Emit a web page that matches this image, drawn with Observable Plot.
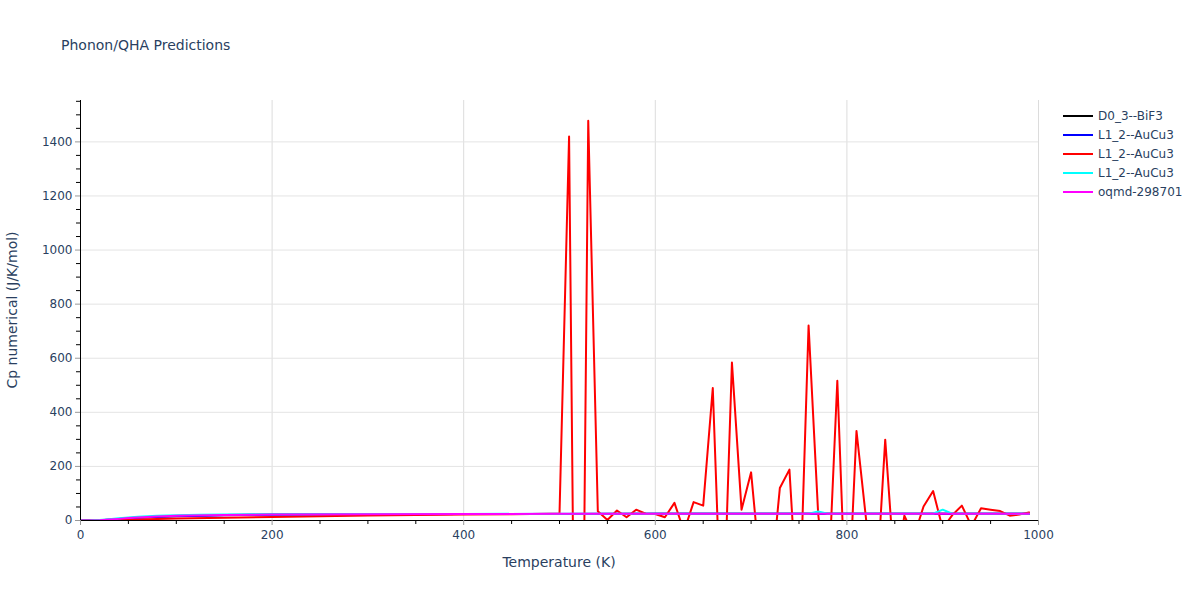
<!DOCTYPE html>
<html>
<head>
<meta charset="utf-8">
<script src="https://cdn.jsdelivr.net/npm/d3@7"></script>
<script src="https://cdn.jsdelivr.net/npm/@observablehq/plot@0.6"></script>
<style>
  html, body { margin: 0; padding: 0; background: #fff; }
  #wrap { position: relative; width: 1200px; height: 600px; font-family: "DejaVu Sans", sans-serif; color: #2a3f5f; }
  #wrap svg { position: absolute; left: 0; top: 0; }
  .title { position: absolute; left: 61px; top: 37px; font-size: 14px; white-space: nowrap; }
  .xlabel { position: absolute; left: 559px; top: 554px; transform: translateX(-50%); font-size: 14px; white-space: nowrap; }
  .ylabel { position: absolute; left: 12px; top: 310px; transform: translate(-50%, -50%) rotate(-90deg); font-size: 14px; white-space: nowrap; }
  .legend { position: absolute; left: 1063px; top: 106px; font-size: 12px; }
  .legend .item { height: 19px; display: flex; align-items: center; white-space: nowrap; }
  .legend .swatch { width: 30px; height: 2px; margin-right: 5px; }
</style>
</head>
<body>
<div id="wrap">
  <div class="title">Phonon/QHA Predictions</div>
  <div class="xlabel">Temperature (K)</div>
  <div class="ylabel">Cp numerical (J/K/mol)</div>
  <div class="legend" id="legend"></div>
</div>
<script>
// ---- data ----
const seriesNames = ["D0_3--BiF3", "L1_2--AuCu3", "L1_2--AuCu3", "L1_2--AuCu3", "oqmd-298701"];
const seriesColors = ["black", "blue", "red", "cyan", "magenta"];

const blackT = [0, 10, 20, 30, 40, 50, 60, 80, 100, 150, 200, 300, 400, 500, 600, 700, 800, 900, 990];
const blackCp = [0, 0.2, 1.1, 3.0, 5.5, 8.2, 10.8, 14.3, 16.8, 20.0, 21.8, 23.4, 24.1, 24.4, 24.6, 24.7, 24.8, 24.8, 24.9];

const blueT = [0, 10, 20, 30, 40, 50, 60, 80, 100, 150, 200, 300, 400, 500, 600, 700, 800, 900, 990];
const blueCp = [0, 0.15, 1.0, 2.8, 5.0, 7.6, 10.0, 13.5, 16.0, 19.5, 21.5, 23.2, 24.0, 24.4, 24.6, 24.7, 24.8, 24.8, 24.9];

const redT = [0, 10, 20, 30, 40, 50, 60, 80, 100, 150, 200, 250, 300, 350, 400, 450, 490,
  500, 510, 520, 530, 540, 550, 560, 570, 580, 590, 600, 610, 620, 630, 640, 650, 660, 670, 680, 690,
  700, 710, 720, 730, 740, 750, 760, 770, 780, 790, 800, 810, 820, 830, 840, 850, 860, 870, 880, 890,
  900, 910, 920, 930, 940, 950, 960, 970, 980, 990];
const redCp = [0, 0.1, 0.5, 1.2, 2.0, 3.0, 4.0, 5.5, 7.0, 10.0, 13.0, 16.0, 18.5, 20.5, 22.0, 23.5, 24.5,
  25, 1420, -2200, 1478, 34, 2, 37, 12, 40, 25, 24, 12, 65, -40, 68, 55, 490, -500, 584, 40,
  178, -200, -250, 120, 188, -400, 721, 25, -290, 517, -440, 331, 5, -300, 299, -200, 18, -60, 52, 109,
  -30, 20, 55, -20, 45, 40, 35, 18, 22, 30];

const cyanT = [0, 10, 20, 30, 40, 50, 60, 70, 80, 100, 125, 150, 200, 300, 400, 500, 600, 700, 760, 770, 780, 800, 890, 900, 910, 990];
const cyanCp = [0, 0.3, 2.0, 5.0, 8.5, 11.5, 14.0, 16.0, 17.5, 19.5, 21.0, 22.0, 23.2, 24.0, 24.4, 24.6, 24.7, 24.8, 24.8, 33, 24.8, 24.8, 24.9, 40, 24.9, 25.0];

const magentaT = [0, 10, 20, 30, 40, 50, 60, 80, 100, 150, 200, 300, 400, 500, 600, 700, 800, 900, 990];
const magentaCp = [0, 0.2, 1.2, 3.5, 6.0, 9.0, 11.5, 15.0, 17.5, 20.5, 22.0, 23.5, 24.2, 24.5, 24.7, 24.8, 24.8, 24.9, 25.0];

const xMajor = [0, 200, 400, 600, 800, 1000];
const yMajor = [0, 200, 400, 600, 800, 1000, 1200, 1400];

// ---- build tables ----
const allT = [blackT, blueT, redT, cyanT, magentaT];
const allCp = [blackCp, blueCp, redCp, cyanCp, magentaCp];
const tables = allT.map((ts, i) => ts.map((t, j) => ({t, cp: allCp[i][j]})));

const xMinor = d3.range(0, 1001, 50).filter(v => !xMajor.includes(v));
const yMinor = d3.range(0, 1551, 50).filter(v => !yMajor.includes(v));

const font = "'DejaVu Sans', sans-serif";
const textColor = "#2a3f5f";

const chart = Plot.plot({
  width: 1200,
  height: 600,
  marginTop: 100,
  marginRight: 162,
  marginBottom: 80,
  marginLeft: 80,
  style: {fontFamily: font, fontSize: "12px", color: textColor, background: "transparent"},
  x: {domain: [0, 1000]},
  y: {domain: [0, 1553]},
  marks: [
    Plot.gridX(xMajor.filter(v => v > 0), {stroke: "#dcdcdc", strokeOpacity: 1, strokeWidth: 1}),
    Plot.gridY(yMajor.filter(v => v > 0), {stroke: "#e4e4e4", strokeOpacity: 1, strokeWidth: 1}),
    ...tables.map((tab, i) => Plot.line(tab, {x: "t", y: "cp", stroke: seriesColors[i], strokeWidth: 2, clip: true})),
    Plot.ruleY([0], {stroke: "black", strokeWidth: 1}),
    Plot.ruleX([0], {stroke: "black", strokeWidth: 1}),
    Plot.axisX({ticks: xMajor, tickSize: 5, tickPadding: 5, stroke: "#999", fill: textColor, fontSize: 12, label: null, tickFormat: d => String(d)}),
    Plot.axisX({ticks: xMinor, tickSize: 4, stroke: "black", label: null, tickFormat: () => ""}),
    Plot.axisY({ticks: yMajor, tickSize: 5, tickPadding: 3, stroke: "#999", fill: textColor, fontSize: 12, label: null, tickFormat: d => String(d)}),
    Plot.axisY({ticks: yMinor, tickSize: 4, stroke: "black", label: null, tickFormat: () => ""})
  ]
});

const wrap = document.getElementById("wrap");
wrap.insertBefore(chart, wrap.firstChild);

const legend = document.getElementById("legend");
seriesNames.forEach((name, i) => {
  const item = document.createElement("div");
  item.className = "item";
  const sw = document.createElement("div");
  sw.className = "swatch";
  sw.style.background = seriesColors[i];
  const lab = document.createElement("span");
  lab.textContent = name;
  item.appendChild(sw);
  item.appendChild(lab);
  legend.appendChild(item);
});
</script>
</body>
</html>
